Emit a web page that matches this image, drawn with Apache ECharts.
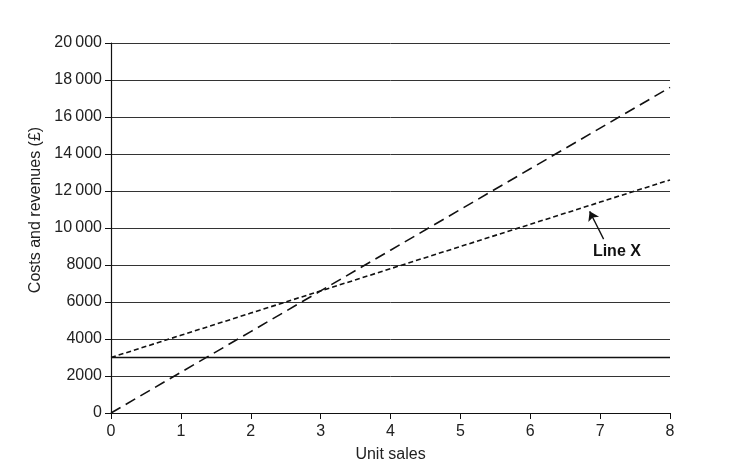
<!DOCTYPE html>
<html>
<head>
<meta charset="utf-8">
<script src="https://cdn.jsdelivr.net/npm/echarts@6/dist/echarts.min.js"></script>
<style>
html,body{margin:0;padding:0;background:#fff;}
#c{width:735px;height:475px;}
</style>
</head>
<body>
<div id="c"></div>
<script>
// Data
var unitSales = [0, 1, 2, 3, 4, 5, 6, 7, 8];
var revenue   = [0, 2200, 4400, 6600, 8800, 11000, 13200, 15400, 17600];
var totalCost = [3000, 4200, 5400, 6600, 7800, 9000, 10200, 11400, 12600];
var fixedCost = [3000, 3000, 3000, 3000, 3000, 3000, 3000, 3000, 3000];
var yTicks = [0, 2000, 4000, 6000, 8000, 10000, 12000, 14000, 16000, 18000, 20000];
var annotationText = 'Line X';
var arrowFrom = [7.05, 9400];
var arrowTo = [6.85, 10900];
var labelAt = [7.24, 8750];

function pairs(xs, ys) { return xs.map(function (x, i) { return [x, ys[i]]; }); }
function fmt(v) {
  var s = String(v);
  if (v >= 10000) return s.slice(0, s.length - 3) + '\u2009' + s.slice(s.length - 3);
  return s;
}

var font = '"Liberation Sans", Arial, sans-serif';
var ink = '#222';
var chart = echarts.init(document.getElementById('c'), null, {renderer: 'canvas'});
chart.setOption({
  animation: false,
  backgroundColor: '#fff',
  grid: {left: 111, right: 65, top: 43, bottom: 62},
  xAxis: {
    type: 'value', min: 0, max: 8, interval: 1,
    name: 'Unit sales', nameLocation: 'middle', nameGap: 34,
    nameTextStyle: {fontFamily: font, fontSize: 16, color: ink},
    axisLine: {show: true, onZero: false, lineStyle: {color: '#111', width: 1.2}},
    axisTick: {show: true, length: 6, lineStyle: {color: '#111'}},
    axisLabel: {fontFamily: font, fontSize: 16, color: ink, margin: 11},
    splitLine: {show: false}
  },
  yAxis: {
    type: 'value', min: yTicks[0], max: yTicks[yTicks.length - 1], interval: yTicks[1] - yTicks[0],
    name: 'Costs and revenues (£)', nameLocation: 'middle', nameGap: 64, nameRotate: 90,
    nameTextStyle: {fontFamily: font, fontSize: 16, color: ink, padding: [0, 0, 0, 36]},
    axisLine: {show: true, lineStyle: {color: '#111', width: 1.2}},
    axisTick: {show: true, length: 6, lineStyle: {color: '#111'}},
    axisLabel: {fontFamily: font, fontSize: 16, color: ink, margin: 9, formatter: fmt},
    splitLine: {show: true, lineStyle: {color: '#333', width: 1}}
  },
  series: [
    {
      name: 'Revenue', type: 'line', data: pairs(unitSales, revenue), showSymbol: false, symbol: 'none',
      lineStyle: {color: '#111', width: 1.6, type: [11, 6]}, z: 3
    },
    {
      name: 'Total cost', type: 'line', data: pairs(unitSales, totalCost), showSymbol: false, symbol: 'none',
      lineStyle: {color: '#111', width: 1.6, type: [5, 3]}, z: 3,
      markLine: {
        silent: true, animation: false,
        symbol: ['none', 'arrow'], symbolSize: 9,
        lineStyle: {color: '#111', width: 1.3, type: 'solid'},
        label: {show: false},
        data: [[{coord: arrowFrom}, {coord: arrowTo}]]
      },
      markPoint: {
        silent: true, animation: false,
        symbol: 'circle', symbolSize: 0,
        label: {show: true, formatter: annotationText, fontFamily: font, fontSize: 16, fontWeight: 'bold', color: '#111', position: 'inside'},
        data: [{coord: labelAt}]
      }
    },
    {
      name: 'Fixed cost', type: 'line', data: pairs(unitSales, fixedCost), showSymbol: false, symbol: 'none',
      lineStyle: {color: '#111', width: 1.6, type: 'solid'}, z: 3
    }
  ]
});
</script>
</body>
</html>
